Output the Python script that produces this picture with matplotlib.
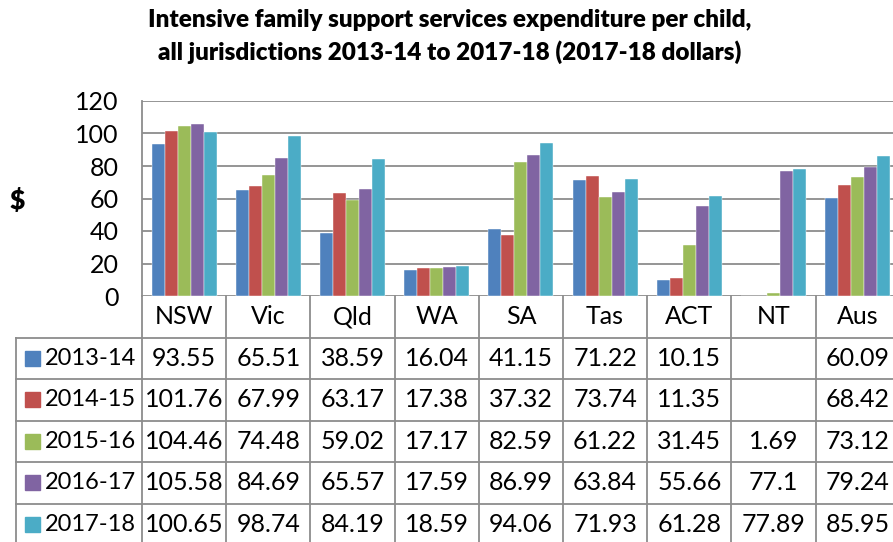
import numpy as np
import matplotlib
matplotlib.use("Agg")
import matplotlib.pyplot as plt

plt.rcParams['font.family'] = ['Lato', 'DejaVu Sans']

# Data
jurisdictions = ["NSW", "Vic", "Qld", "WA", "SA", "Tas", "ACT", "NT", "Aus"]
years = ["2013-14", "2014-15", "2015-16", "2016-17", "2017-18"]
exp_2013_14 = [93.55, 65.51, 38.59, 16.04, 41.15, 71.22, 10.15, np.nan, 60.09]
exp_2014_15 = [101.76, 67.99, 63.17, 17.38, 37.32, 73.74, 11.35, np.nan, 68.42]
exp_2015_16 = [104.46, 74.48, 59.02, 17.17, 82.59, 61.22, 31.45, 1.69, 73.12]
exp_2016_17 = [105.58, 84.69, 65.57, 17.59, 86.99, 63.84, 55.66, 77.1, 79.24]
exp_2017_18 = [100.65, 98.74, 84.19, 18.59, 94.06, 71.93, 61.28, 77.89, 85.95]
series = [exp_2013_14, exp_2014_15, exp_2015_16, exp_2016_17, exp_2017_18]
colors = ["#4F81BD", "#C0504D", "#9BBB59", "#8064A2", "#4BACC6"]
yticks = [0, 20, 40, 60, 80, 100, 120]

W, H = 893, 542
fig = plt.figure(figsize=(W / 100, H / 100), dpi=100)
grid_c = "#8C8C8C"
lw = 1.3
fs = 18

def fx(px):
    return px / W

def fy(py):
    return 1 - py / H

n = len(jurisdictions)
left_px, top_px, zero_px = 142, 101, 296
cat_px = 84.2
right_px = left_px + n * cat_px

# Chart axes
ax = fig.add_axes([fx(left_px), fy(zero_px), fx(right_px - left_px), (zero_px - top_px) / H])
ax.set_xlim(0, n)
ax.set_ylim(0, 120)
ax.set_yticks(yticks)
ax.set_yticklabels([str(t) for t in yticks], fontsize=fs)
ax.tick_params(axis='y', length=0, pad=17)
ax.set_xticks([])
for s in ax.spines.values():
    s.set_visible(False)
ax.spines['left'].set_visible(True)
ax.spines['left'].set_color(grid_c)
ax.spines['left'].set_linewidth(lw)
for t in yticks:
    ax.axhline(t, color=grid_c, lw=lw, zorder=0)

bw = 0.154
x = np.arange(n) + 0.5
for k, (vals, c) in enumerate(zip(series, colors)):
    v = np.array(vals, dtype=float)
    ax.bar(x + (k - 2) * bw, np.nan_to_num(v), width=bw, color=c,
           edgecolor='white', linewidth=0.3, zorder=2)

# Table axes (same column units as chart; legend column to the left)
tab_top = zero_px
row_px = 41.5
nrows = 1 + len(years)
tab_left_px = 16
leg_units = (left_px - tab_left_px) / cat_px
tax = fig.add_axes([fx(tab_left_px), fy(tab_top + nrows * row_px),
                    fx(right_px - tab_left_px), nrows * row_px / H])
tax.set_xlim(-leg_units, n)
tax.set_ylim(nrows, 0)
tax.axis('off')

# Grid lines of the table
for i in range(n + 1):
    tax.plot([i, i], [0, nrows], color=grid_c, lw=lw, clip_on=False)
tax.plot([-leg_units, -leg_units], [1, nrows], color=grid_c, lw=lw, clip_on=False)
for r in range(1, nrows + 1):
    tax.plot([-leg_units, n], [r, r], color=grid_c, lw=lw, clip_on=False)

# Header row
for i, name in enumerate(jurisdictions):
    tax.text(i + 0.5, 0.5, name, ha='center', va='center', fontsize=fs)

# Series rows
sq = 15 / cat_px
for r, (yr, vals, c) in enumerate(zip(years, series, colors)):
    yc = r + 1.5
    tax.add_patch(plt.Rectangle((-leg_units + 9 / cat_px, yc - 0.18), sq, 0.36,
                                color=c, clip_on=False))
    tax.text(-leg_units + 29 / cat_px, yc, yr, ha='left', va='center', fontsize=17)
    for i, v in enumerate(vals):
        if not np.isnan(v):
            tax.text(i + 0.5, yc, f"{v:g}", ha='center', va='center', fontsize=fs)

# Title and axis label
fig.text(fx(450), fy(20), "Intensive family support services expenditure per child,",
         ha='center', va='center', fontsize=17.5, fontweight='heavy')
fig.text(fx(450), fy(52), "all jurisdictions 2013-14 to 2017-18 (2017-18 dollars)",
         ha='center', va='center', fontsize=17.5, fontweight='heavy')
fig.text(fx(17), fy(200), "$", ha='center', va='center', fontsize=19, fontweight='heavy')

fig.savefig("out.png", dpi=100)
